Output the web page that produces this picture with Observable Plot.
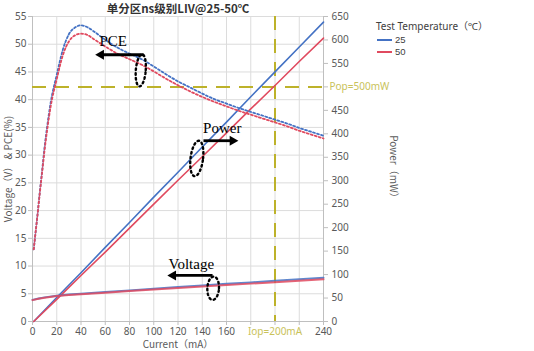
<!DOCTYPE html>
<html><head><meta charset="utf-8">
<script src="https://cdn.jsdelivr.net/npm/d3@7"></script>
<script src="https://cdn.jsdelivr.net/npm/@observablehq/plot@0.6"></script>
<style>
body{margin:0;background:#fff}
#wrap{position:relative;width:534px;height:351px;font-family:"Noto Sans","Noto Sans CJK SC",sans-serif}
.lg{position:absolute;font-size:10px;color:#404040;white-space:nowrap;line-height:10px}
.num{font-family:"Liberation Sans",sans-serif;font-size:9.5px}
.sw{position:absolute;height:0;width:15px;border-top:2px solid}
</style></head><body><div id="wrap"></div>
<script>
// ---- data ----
const temps = ["25", "50"];
const colors = ["#4472c4", "#e04a5f"];

const pceCurrent = [1,2,4,6,8,10,12,15,20,25,30,35,40,45,50,60,70,80,90,100,110,120,130,140,150,160,170,180,190,200,210,220,230,240];
const pce25 = [13,15,19,23.3,27.3,31.5,35,39.5,44.5,49,51.8,53,53.4,53.1,52.4,50.8,49.4,48.3,47.3,46,44.6,43.3,42.2,41.1,40.1,39.3,38.5,37.8,37.1,36.4,35.7,34.9,34.2,33.5];
const pce50 = [13,15,18.9,23.1,27,31,34.4,38.8,43.7,48,50.5,51.6,51.9,51.7,51,49.6,48.3,47.3,46.3,45.1,43.8,42.6,41.5,40.5,39.6,38.8,38,37.3,36.6,35.9,35.2,34.4,33.7,33];

const powerCurrent = [1,20,40,60,80,100,120,140,160,180,200,220,240];
const power25 = [0,51,104,158,211,265,318,372,425,479,532,585,638];
const power50 = [0,47,98,148,199,250,301,351,402,453,503,554,604];

const voltCurrent = [0,5,10,20,30,40,60,80,100,120,140,160,180,200,220,240];
const volt25 = [3.9,4.15,4.35,4.65,4.85,5.0,5.3,5.6,5.9,6.2,6.5,6.8,7.05,7.35,7.62,7.9];
const volt50 = [3.85,4.1,4.3,4.58,4.76,4.9,5.2,5.48,5.76,6.03,6.3,6.57,6.83,7.1,7.35,7.6];

const xTicks = [0,20,40,60,80,100,120,140,160,180,200,220,240];
const yTicks = [0,5,10,15,20,25,30,35,40,45,50,55];
const powerTicks = [0,50,100,150,200,250,300,350,400,450,500,550,600,650];
const iop = 200, pop = 500;
const iopLabel = "Iop=200mA", popLabel = "Pop=500mW";

const title = "单分区ns级别LIV@25-50℃";
const xLabel = "Current（mA）";
const yLabel = "Voltage（V） & PCE(%)";
const y2Label = "Power（mW）";
const legendTitle = "Test Temperature（℃）";

// annotations (data coordinates: mA, left-axis units)
const annoTexts = [{t:"PCE", x:66.5, y:50.6}, {t:"Power", x:156.5, y:34.9}, {t:"Voltage", x:131, y:10.4}];
const annoArrows = [{x1:91.5, x2:56.5, y:48.1, dir:-90}, {x1:141, x2:165, y:32.6, dir:90}, {x1:148.5, x2:116, y:8.3, dir:-90}];
const annoEllipses = [{cx:89.3, cy:45.3, rx:4.1, ry:2.9, tilt:0.35}, {cx:135.5, cy:29.4, rx:5.2, ry:3.2, tilt:0.5}, {cx:149, cy:6.0, rx:4.8, ry:2.1, tilt:0.2}];

// ---- build ----
const K = 55 / 650; // power -> left axis units
const toRows = (xs, ys, s) => xs.map((x, i) => ({x, y: ys[i], s}));
const pceRows = [toRows(pceCurrent, pce25, 0), toRows(pceCurrent, pce50, 1)];
const powRows = [toRows(powerCurrent, power25.map(p => p * K), 0), toRows(powerCurrent, power50.map(p => p * K), 1)];
const voltRows = [toRows(voltCurrent, volt25, 0), toRows(voltCurrent, volt50, 1)];

function ellipsePts(e) {
  const pts = [];
  for (let i = 0; i <= 60; i++) {
    const t = 2 * Math.PI * i / 60;
    const s = Math.sin(t);
    pts.push({x: e.cx + e.rx * Math.cos(t) + e.tilt * e.ry * s, y: e.cy + e.ry * s});
  }
  return pts;
}

const OLIVE = "#bdb22a";
const GRID = "#dcdcdc";
const TXT = "#595959";

const marks = [
  Plot.gridX(xTicks, {stroke: GRID, strokeOpacity: 1}),
  Plot.gridY(yTicks, {stroke: GRID, strokeOpacity: 1}),
  Plot.ruleX([0], {stroke: "#bfbfbf"}),
  Plot.ruleX([240], {stroke: "#bfbfbf"}),
  Plot.ruleY([0], {stroke: "#bfbfbf"}),
  Plot.axisX({ticks: xTicks, tickSize: 4, tickFormat: d => (d === 180 || d === 200 || d === 220) ? "" : String(d), fill: TXT, stroke: "#bfbfbf", tickPadding: 2, label: null}),
  Plot.axisY({ticks: yTicks, tickSize: 4, fill: TXT, stroke: "#bfbfbf", tickPadding: 2, label: null}),
  Plot.axisY({anchor: "right", ticks: powerTicks.map(p => p * K), tickSize: 4, tickFormat: d => { const p = Math.round(d / K); return p === pop ? "" : String(p); }, fill: TXT, stroke: "#bfbfbf", tickPadding: 4, label: null}),
  Plot.text([iopLabel], {x: iop, frameAnchor: "bottom", lineAnchor: "middle", dy: 10.5, fill: "#c9c25a", fontSize: 10}),
  Plot.text([popLabel], {y: pop * K, frameAnchor: "right", dx: 6, textAnchor: "start", fill: "#c9c25a", fontSize: 10}),
  // reference lines
  Plot.ruleX([iop], {stroke: OLIVE, strokeWidth: 2, strokeDasharray: "14,9"}),
  Plot.ruleY([pop * K], {x1: 0, x2: 240, stroke: OLIVE, strokeWidth: 2, strokeDasharray: "14,9"}),
  // series
  ...[0, 1].map(s => Plot.line(powRows[s], {x: "x", y: "y", stroke: colors[s], strokeWidth: 1.6})),
  ...[0, 1].map(s => Plot.line(voltRows[s], {x: "x", y: "y", stroke: colors[s], strokeWidth: 2, strokeOpacity: 0.85})),
  ...[0, 1].map(s => Plot.line(pceRows[s], {x: "x", y: "y", stroke: colors[s], strokeWidth: 1.8, strokeDasharray: "2,2.2", curve: "monotone-x"})),
  // annotations
  Plot.text(annoTexts, {x: "x", y: "y", text: "t", fontFamily: "Liberation Serif", fontSize: 15, fill: "#000"}),
  Plot.link(annoArrows, {x1: "x1", x2: "x2", y1: "y", y2: "y", stroke: "#000", strokeWidth: 2.8}),
  Plot.dot(annoArrows, {x: "x2", y: "y", symbol: "triangle2", r: 4.8, fill: "#000", rotate: "dir"}),
  ...annoEllipses.map(e => Plot.line(ellipsePts(e), {x: "x", y: "y", stroke: "#000", strokeWidth: 2.4, strokeDasharray: "1.6,3.2", strokeLinecap: "round"})),
  // titles
  Plot.text([title], {frameAnchor: "top", lineAnchor: "middle", dy: -7, fontWeight: "bold", fontSize: 11.5, fill: "#333", fontFamily: "Noto Sans CJK SC"}),
  Plot.text([xLabel], {frameAnchor: "bottom", lineAnchor: "middle", dy: 23.5, fontSize: 10, fill: TXT, fontFamily: "Noto Sans CJK SC"}),
  Plot.text([yLabel], {frameAnchor: "left", textAnchor: "middle", dx: -24, rotate: -90, fontSize: 10, fill: TXT, fontFamily: "Noto Sans CJK SC"}),
  Plot.text([y2Label], {frameAnchor: "right", textAnchor: "middle", dx: 70, rotate: 90, fontSize: 10, fill: TXT, fontFamily: "Noto Sans CJK SC"})
];

const chart = Plot.plot({
  width: 534, height: 351,
  marginLeft: 32, marginRight: 211, marginTop: 16, marginBottom: 30,
  x: {domain: [0, 240], axis: null},
  y: {domain: [0, 55], axis: null},
  style: {fontFamily: "Noto Sans, sans-serif", fontSize: "10px", background: "#fff", overflow: "visible"},
  marks
});
const wrap = document.getElementById("wrap");
wrap.appendChild(chart);

// legend (HTML, over right margin)
const lt = document.createElement("div"); lt.className = "lg"; lt.style.left = "376px"; lt.style.top = "21px"; lt.textContent = legendTitle; wrap.appendChild(lt);
temps.forEach((t, i) => {
  const sw = document.createElement("div"); sw.className = "sw"; sw.style.left = "377px"; sw.style.top = (39 + i * 11.5) + "px"; sw.style.borderColor = colors[i]; wrap.appendChild(sw);
  const lb = document.createElement("div"); lb.className = "lg num"; lb.style.left = "395px"; lb.style.top = (35 + i * 11.5) + "px"; lb.textContent = t; wrap.appendChild(lb);
});
</script>
</body></html>
